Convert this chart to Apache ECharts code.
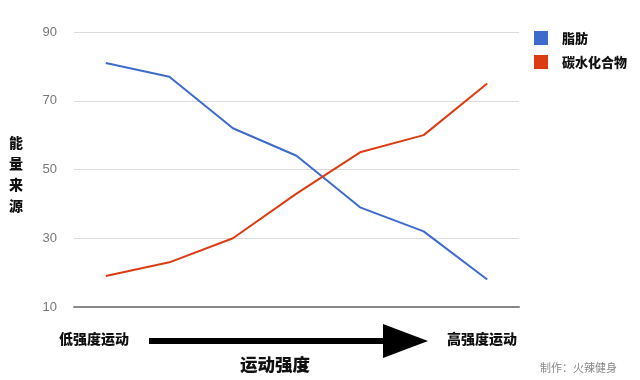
<!DOCTYPE html>
<html><head><meta charset="utf-8">
<script src="https://cdn.jsdelivr.net/npm/echarts@6/dist/echarts.min.js"></script>
<style>html,body{margin:0;padding:0;background:#fff}#c{width:640px;height:380px}</style>
</head><body><div id="c"></div>
<script>
const categories = ['1','2','3','4','5','6','7'];
const fat = [81, 77, 62, 54, 39, 32, 18];
const carbs = [19, 23, 30, 43, 55, 60, 75];
const yTicks = [10, 30, 50, 70, 90];
const seriesNames = ['脂肪', '碳水化合物'];
const cjk = '"Noto Sans CJK SC", sans-serif';
const chart = echarts.init(document.getElementById('c'));
chart.setOption({
  animation: false,
  backgroundColor: '#fff',
  grid: {left: 74, right: 121, top: 32, bottom: 73},
  legend: {
    orient: 'vertical', left: 529, top: 26, icon: 'rect',
    itemWidth: 14, itemHeight: 14, itemGap: 10,
    textStyle: {fontFamily: cjk, fontWeight: 900, fontSize: 13, color: '#111', padding: [0,0,0,9]},
    data: seriesNames
  },
  xAxis: {
    type: 'category', data: categories, boundaryGap: true,
    axisLine: {lineStyle: {color: '#888', width: 2}},
    axisTick: {show: false}, axisLabel: {show: false}
  },
  yAxis: {
    type: 'value', min: yTicks[0], max: yTicks[yTicks.length-1], interval: 20,
    axisLine: {show: false}, axisTick: {show: false},
    axisLabel: {color: '#777', fontSize: 13, fontFamily: 'Arial, sans-serif', margin: 17},
    splitLine: {lineStyle: {color: '#dcdcdc', width: 1}}
  },
  series: [
    {name: seriesNames[0], type: 'line', data: fat, symbol: 'none', itemStyle: {color: '#3d6bcc'}, lineStyle: {color: '#3d6bcc', width: 2}},
    {name: seriesNames[1], type: 'line', data: carbs, symbol: 'none', itemStyle: {color: '#dc3c12'}, lineStyle: {color: '#dc3c12', width: 2}}
  ],
  graphic: [
    {type: 'text', left: 9, top: 132, style: {text: '能\n量\n来\n源', fontFamily: cjk, fontWeight: 900, fontSize: 14, lineHeight: 21, fill: '#111'}},
    {type: 'text', left: 59, top: 332, style: {text: '低强度运动', fontFamily: cjk, fontWeight: 900, fontSize: 14, fill: '#111'}},
    {type: 'text', left: 447, top: 332, style: {text: '高强度运动', fontFamily: cjk, fontWeight: 900, fontSize: 14, fill: '#111'}},
    {type: 'text', left: 240, top: 356, style: {text: '运动强度', fontFamily: cjk, fontWeight: 900, fontSize: 17.5, fill: '#111'}},
    {type: 'text', left: 540, top: 362, style: {text: '制作：火辣健身', fontFamily: cjk, fontSize: 11, fill: '#888'}},
    {type: 'line', shape: {x1: 149, y1: 341, x2: 390, y2: 341}, style: {stroke: '#000', lineWidth: 6}},
    {type: 'polygon', shape: {points: [[383, 324], [428, 341], [383, 358]]}, style: {fill: '#000'}}
  ]
});
</script></body></html>
